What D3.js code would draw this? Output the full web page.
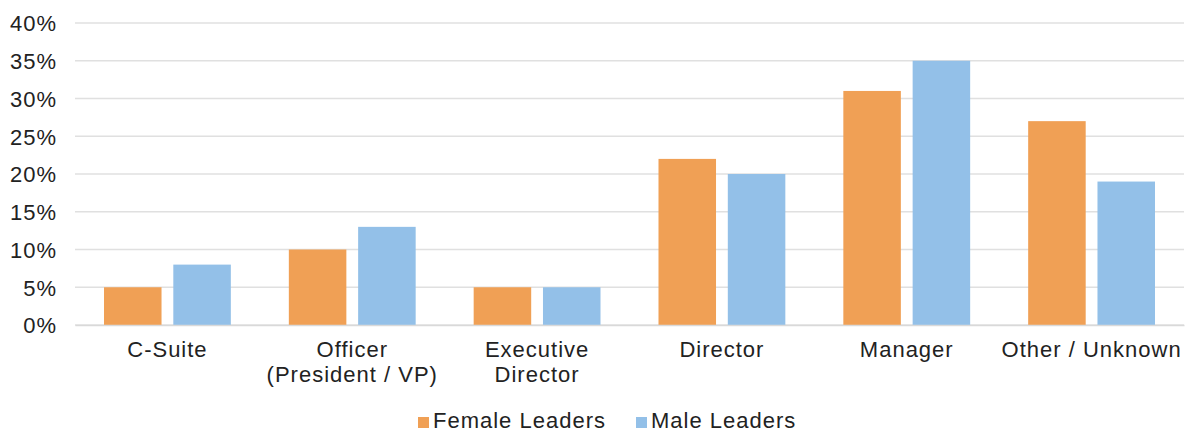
<!DOCTYPE html>
<html>
<head>
<meta charset="utf-8">
<script src="https://cdn.jsdelivr.net/npm/d3@7"></script>
<style>
  body { margin: 0; background: #fff; }
  text { font-family: "Liberation Sans", Arial, sans-serif; fill: #222; letter-spacing: 1px; }
</style>
</head>
<body>
<div id="chart"></div>
<script>
// chart data
const categories = [["C-Suite"], ["Officer", "(President / VP)"], ["Executive", "Director"], ["Director"], ["Manager"], ["Other / Unknown"]];
const seriesNames = ["Female Leaders", "Male Leaders"];
const female = [5, 10, 5, 22, 31, 27];
const male = [8, 13, 5, 20, 35, 19];
const yTicks = [0, 5, 10, 15, 20, 25, 30, 35, 40];

const colors = ["#F0A055", "#93C0E8"];

let margin = {top: 23, left: 75, right: 5, bottom: 107},
    width = 1189 - margin.left - margin.right,
    height = 432 - margin.top - margin.bottom;

let data = categories.map((c, i) => ({cat: c, key: i, vals: [female[i], male[i]]}));

let svg = d3.select("#chart")
  .append("svg")
    .attr("width", 1189)
    .attr("height", 432);

let g = svg.append("g")
  .attr("transform", "translate(" + margin.left + "," + margin.top + ")");

let xScale = d3.scaleBand()
  .domain(data.map(d => d.key))
  .range([0, width])
  .paddingInner(0)
  .paddingOuter(0);

let inner = d3.scaleBand()
  .domain([0, 1])
  .range([29, xScale.bandwidth() - 29])
  .paddingInner(0.17);

let yScale = d3.scaleLinear()
  .domain([0, 40])
  .range([height, 0]);

// gridlines
g.append("g")
  .selectAll("line")
  .data(yTicks)
  .enter().append("line")
    .attr("x1", 0)
    .attr("x2", width)
    .attr("y1", d => yScale(d))
    .attr("y2", d => yScale(d))
    .attr("stroke", "#e0e0e0")
    .attr("stroke-width", 1.3);

// y axis
let yAxis = g.append("g")
  .call(d3.axisLeft(yScale).tickValues(yTicks).tickFormat(d => d + "%").tickSize(0).tickPadding(18));
yAxis.select(".domain").remove();
yAxis.selectAll("text")
  .style("font-size", "22px")
  .attr("fill", "#222")
  .attr("dy", "0.36em");

// bars
let groups = g.selectAll(".grp")
  .data(data)
  .enter().append("g")
    .attr("class", "grp")
    .attr("transform", d => "translate(" + xScale(d.key) + ",0)");

groups.selectAll("rect")
  .data(d => d.vals.map((v, i) => ({v: v, s: i})))
  .enter().append("rect")
    .attr("x", d => inner(d.s))
    .attr("y", d => yScale(d.v))
    .attr("width", inner.bandwidth())
    .attr("height", d => height - yScale(d.v))
    .attr("fill", d => colors[d.s]);

// x axis
let xAxis = g.append("g")
  .attr("transform", "translate(0," + height + ")")
  .call(d3.axisBottom(xScale).tickSize(0).tickFormat(""));
xAxis.select(".domain").attr("stroke", "#d9d9d9").attr("stroke-width", 1.3);

xAxis.selectAll(".tick").each(function(k) {
  let t = d3.select(this).append("text")
    .attr("text-anchor", "middle")
    .style("font-size", "22px")
    .attr("fill", "#222");
  categories[k].forEach((line, j) => {
    t.append("tspan").attr("x", 0).attr("y", 32 + j * 25).text(line);
  });
});

// legend
let legend = svg.append("g").attr("transform", "translate(0,428)");
let legendX = [418, 636];
seriesNames.forEach((name, i) => {
  legend.append("rect")
    .attr("x", legendX[i])
    .attr("y", -11)
    .attr("width", 11)
    .attr("height", 11)
    .attr("fill", colors[i]);
  legend.append("text")
    .attr("x", legendX[i] + 15)
    .attr("y", 0)
    .style("font-size", "22px")
    .text(name);
});
</script>
</body>
</html>
